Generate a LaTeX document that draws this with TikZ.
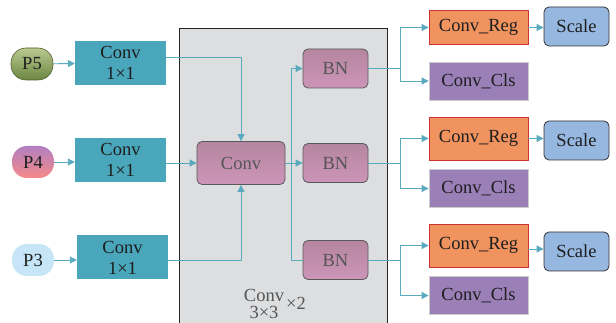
\documentclass[tikz,border=0pt]{standalone}
\usepackage{fontspec}
\setmainfont{Liberation Serif}
\newfontfamily\tnr{Liberation Serif}
\usetikzlibrary{arrows.meta}
\definecolor{linec}{HTML}{5AAABF}
\definecolor{teal1}{HTML}{4AA6BB}
\definecolor{grayfill}{HTML}{DDDEE0}
\definecolor{pinktop}{HTML}{B5869F}
\definecolor{pinkbot}{HTML}{CD95B9}
\definecolor{regfill}{HTML}{F0935F}
\definecolor{regdraw}{HTML}{CC3333}
\definecolor{clsfill}{HTML}{9B80B8}
\definecolor{scalefill}{HTML}{95B7E0}
\definecolor{txtdark}{HTML}{1E1E1E}
\definecolor{txtgray}{HTML}{555555}
\definecolor{p5top}{HTML}{B9C991}
\definecolor{p5bot}{HTML}{6C8740}
\definecolor{p5draw}{HTML}{4F6030}
\definecolor{p4top}{HTML}{B280C0}
\definecolor{p4bot}{HTML}{F5898A}
\definecolor{p3fill}{HTML}{C6E5F6}
\tikzset{
  base/.style={inner sep=0pt, align=center, font=\tnr\fontsize{18.5}{21}\selectfont, text=txtdark},
  onebox/.style={base, fill=teal1, minimum width=91pt, minimum height=44pt},
  pinkbox/.style={base, rounded corners=5pt, draw=black!65, line width=0.8pt, top color=pinktop, bottom color=pinkbot, text=txtgray},
  regbox/.style={base, fill=regfill, draw=regdraw, line width=0.8pt, minimum width=99pt},
  clsbox/.style={base, fill=clsfill, draw=black!20, line width=0.8pt, minimum width=99pt, minimum height=38pt},
  scalebox/.style={base, fill=scalefill, draw=black!80, line width=0.8pt, rounded corners=5pt, minimum width=65pt, minimum height=39pt},
  pnode/.style={base, rounded corners=15pt, minimum width=42pt, minimum height=32pt},
  wire/.style={draw=linec, line width=0.9pt},
  arr/.style={wire, -{Triangle[length=7pt,width=7pt]}}
}
\begin{document}
\begin{tikzpicture}[x=1pt,y=-1pt]
\useasboundingbox (0,0) rectangle (616,323);
% big gray block
\fill[grayfill] (179,29) rectangle (387,324);
\draw[black!85, line width=1pt] (179,324) -- (179,29) -- (387,29) -- (387,324);

% inputs
\node[pnode, top color=p5top, bottom color=p5bot, draw=p5draw, line width=0.6pt] (p5) at (32,64) {P5};
\node[pnode, top color=p4top, bottom color=p4bot] (p4) at (33,162) {P4};
\node[pnode, fill=p3fill] (p3) at (33,260) {P3};

% conv 1x1
\node[onebox] (c1) at (120.5,63) {Conv\\1×1};
\node[onebox] (c2) at (120.5,160) {Conv\\1×1};
\node[onebox] (c3) at (122.5,257.5) {Conv\\1×1};

\draw[arr] (p5) -- (c1);
\draw[arr] (p4.east) -- (c2.west |- p4.east);
\draw[arr] (p3.east) -- (c3.west |- p3.east);

% conv 3x3 block
\node[pinkbox, minimum width=88pt, minimum height=43pt] (conv) at (241,163) {Conv};
\node[pinkbox, minimum width=65pt, minimum height=39pt] (bn1) at (335.5,68.5) {BN};
\node[pinkbox, minimum width=65pt, minimum height=39pt] (bn2) at (335.5,163) {BN};
\node[pinkbox, minimum width=65pt, minimum height=39pt] (bn3) at (335.5,260) {BN};

\draw[arr] (c1.east |- 0,57) -| (conv.north);
\draw[arr] (c2.east |- conv.west) -- (conv.west);
\draw[arr] (c3.east |- 0,260) -| (conv.south);

\coordinate (j) at (291,163);
\draw[arr] (conv.east) -- (bn2.west);
\draw[arr] (j) |- (bn1.west);
\draw[wire] (j) |- (bn3.west);

\node[base, text=txtgray] (lconv) at (264,295) {Conv};
\node[base, text=txtgray] (l33) at (264,312.5) {3×3};
\node[base, text=txtgray] (lx2) at (296,303) {×2};

% heads
\node[regbox, minimum height=33.6pt] (reg1) at (478.5,27.5) {Conv\_Reg};
\node[clsbox] (cls1) at (478.5,81) {Conv\_Cls};
\node[scalebox] (sc1) at (576.5,26.5) {Scale};

\node[regbox, minimum height=43pt] (reg2) at (478.5,138.5) {Conv\_Reg};
\node[clsbox] (cls2) at (478.5,188.5) {Conv\_Cls};
\node[scalebox] (sc2) at (576.5,140.5) {Scale};

\node[regbox, minimum height=43pt] (reg3) at (478.5,245.5) {Conv\_Reg};
\node[clsbox] (cls3) at (478.5,295.5) {Conv\_Cls};
\node[scalebox] (sc3) at (576.5,251.5) {Scale};

\coordinate (r1) at (400,68.5);
\coordinate (r2) at (400,163);
\coordinate (r3) at (400,260);
\draw[wire] (bn1.east) -- (r1);
\draw[wire] (bn2.east) -- (r2);
\draw[wire] (bn3.east) -- (r3);
\draw[arr] (r1) |- (reg1.west);
\draw[arr] (r1) |- (cls1.west);
\draw[arr] (r2) |- (reg2.west);
\draw[arr] (r2) |- (cls2.west);
\draw[arr] (r3) |- (reg3.west);
\draw[arr] (r3) |- (cls3.west);

\draw[arr] (reg1.east) -- (reg1.east -| sc1.west);
\draw[arr] (reg2.east) -- (reg2.east -| sc2.west);
\draw[arr] (reg3.east |- 0,249) -- (sc3.west |- 0,249);
\end{tikzpicture}
\end{document}
